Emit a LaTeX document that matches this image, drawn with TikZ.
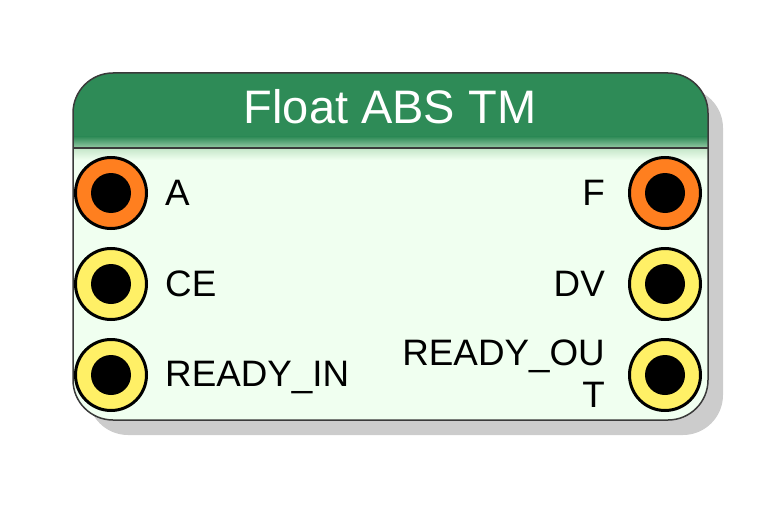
\documentclass[tikz,border=0pt]{standalone}
\usepackage{fontspec}
\setmainfont{Liberation Sans}
\definecolor{hdrgreen}{HTML}{2E8B57}
\definecolor{bodyhoney}{HTML}{F0FFF0}
\definecolor{fadegreen}{HTML}{C4E6C8}
\definecolor{shadowgray}{HTML}{CCCCCC}
\definecolor{portorange}{HTML}{FF7F1F}
\definecolor{portyellow}{HTML}{FFF066}
\definecolor{edgegray}{HTML}{3A3A3A}
\tikzset{
  port/.style={circle, draw=black, line width=3pt, minimum size=71pt, inner sep=0pt},
  porthole/.style={circle, fill=black, minimum size=40pt, inner sep=0pt},
  lbl/.style={font=\fontsize{36.8}{42}\selectfont, inner sep=0pt},
  titletxt/.style={font=\fontsize{47}{55}\selectfont, text=white, inner sep=0pt},
}
\begin{document}
\begin{tikzpicture}[x=1pt,y=-1pt]
\useasboundingbox (0,0) rectangle (782,527);
% shadow
\fill[shadowgray, rounded corners=40pt] (88,88) rectangle (723,435);
% body
\begin{scope}
  \clip[rounded corners=40pt] (73,73) rectangle (708,420);
  \fill[bodyhoney] (73,73) rectangle (708,420);
  \fill[hdrgreen] (73,73) rectangle (708,137);
  \shade[top color=hdrgreen, bottom color=fadegreen!70!hdrgreen] (73,136.5) rectangle (708,148);
  \shade[top color=fadegreen, bottom color=bodyhoney] (73,148) rectangle (708,160);
\end{scope}
\draw[edgegray, line width=1.2pt] (73,148) -- (708,148);
\draw[edgegray, line width=1.5pt, rounded corners=40pt] (73,73) rectangle (708,420);
% title
\node[titletxt, anchor=base] (title) at (390,123) {Float ABS TM};
% left ports
\node[port, fill=portorange] (pA) at (111,193) {};
\node[porthole] (hA) at (pA) {};
\node[port, fill=portyellow] (pCE) at (111,284) {};
\node[porthole] (hCE) at (pCE) {};
\node[port, fill=portyellow] (pRI) at (111,375) {};
\node[porthole] (hRI) at (pRI) {};
% right ports
\node[port, fill=portorange] (pF) at (665,193) {};
\node[porthole] (hF) at (pF) {};
\node[port, fill=portyellow] (pDV) at (665,284) {};
\node[porthole] (hDV) at (pDV) {};
\node[port, fill=portyellow] (pRO) at (665,375) {};
\node[porthole] (hRO) at (pRO) {};
% labels
\node[lbl, anchor=base west] (lA) at (165,205) {A};
\node[lbl, anchor=base west] (lCE) at (165,296) {CE};
\node[lbl, anchor=base west] (lRI) at (165,386) {READY\_IN};
\node[lbl, anchor=base east] (lF) at (605,205) {F};
\node[lbl, anchor=base east] (lDV) at (605,296) {DV};
\node[lbl, anchor=base east] (lRO) at (605,365) {READY\_OU};
\node[lbl, anchor=base east] (lRO2) at (605,407) {T};
\end{tikzpicture}
\end{document}
